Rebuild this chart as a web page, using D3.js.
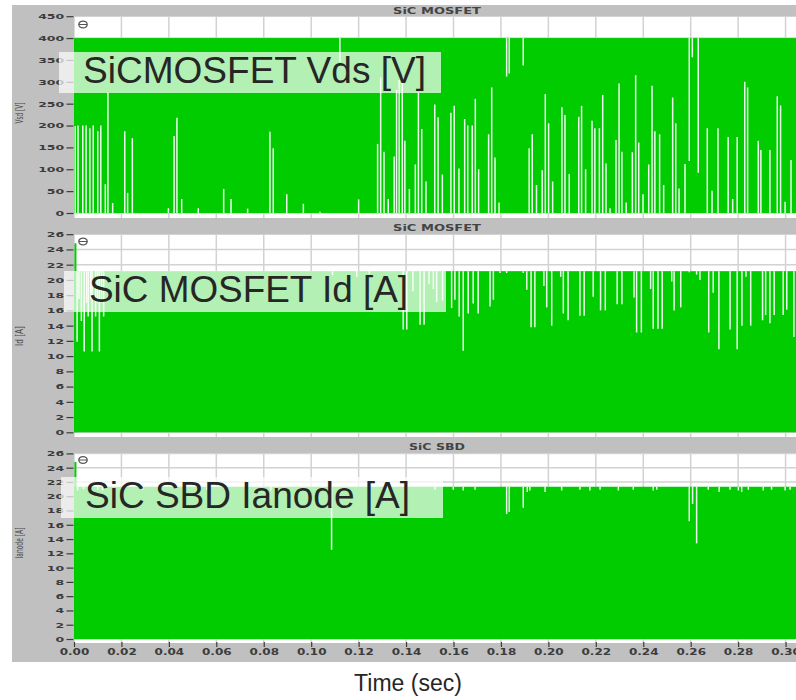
<!DOCTYPE html>
<html>
<head>
<meta charset="utf-8">
<script src="https://cdn.jsdelivr.net/npm/d3@7"></script>
<style>
  body { margin: 0; background: #fff; }
  svg { display: block; }
</style>
</head>
<body>
<div id="chart"></div>
<script>
// time axis
const timeTicks = [0, 0.02, 0.04, 0.06, 0.08, 0.10, 0.12, 0.14, 0.16, 0.18, 0.20, 0.22, 0.24, 0.26, 0.28, 0.30];
const timeMax = 0.3044;

// panel 1 : SiC MOSFET Vds
const vdsTicks = [0, 50, 100, 150, 200, 250, 300, 350, 400, 450];
const vdsBand = [0, 400];
// [time, level] : signal never went below level in that column
const vdsLowGaps = [
  [0.0005, 199], [0.0017, 200], [0.0037, 200], [0.0051, 200], [0.0067, 194], [0.0081, 200],
  [0.0100, 187], [0.0113, 200], [0.0132, 66], [0.0143, 275], [0.0163, 23], [0.0214, 187],
  [0.0226, 46], [0.0246, 171], [0.0398, 11], [0.0422, 176], [0.0434, 218], [0.0454, 32],
  [0.0524, 11], [0.0631, 55], [0.0662, 32], [0.0732, 10], [0.0826, 186], [0.0840, 148],
  [0.0897, 43], [0.0967, 21], [0.1037, 3], [0.1200, 31], [0.1280, 158], [0.1293, 310],
  [0.1307, 140], [0.1325, 32], [0.1350, 129], [0.1360, 281], [0.1371, 304], [0.1384, 304],
  [0.1395, 165], [0.1414, 55], [0.1439, 111], [0.1452, 275], [0.1466, 192], [0.1484, 72],
  [0.1521, 248], [0.1535, 219], [0.1553, 88], [0.1589, 229], [0.1603, 245], [0.1623, 102],
  [0.1647, 215], [0.1660, 200], [0.1679, 200], [0.1692, 261], [0.1706, 100], [0.1748, 180],
  [0.1761, 287], [0.1775, 127], [0.1792, 24], [0.1919, 148], [0.1932, 180], [0.1950, 64],
  [0.1974, 98], [0.1987, 272], [0.2001, 205], [0.2018, 72], [0.2057, 242], [0.2070, 224],
  [0.2088, 89], [0.2128, 220], [0.2140, 245], [0.2157, 100], [0.2184, 211], [0.2196, 194],
  [0.2215, 194], [0.2229, 270], [0.2243, 113], [0.2260, 11], [0.2285, 167], [0.2298, 296],
  [0.2310, 140], [0.2328, 24], [0.2354, 139], [0.2368, 315], [0.2381, 161], [0.2399, 43],
  [0.2423, 111], [0.2437, 291], [0.2449, 187], [0.2469, 180], [0.2486, 64], [0.2524, 264],
  [0.2537, 205], [0.2551, 56], [0.2576, 112], [0.2670, 194], [0.2690, 51], [0.2715, 194],
  [0.2758, 174], [0.2777, 32], [0.2796, 174], [0.2828, 300], [0.2840, 287], [0.2885, 165],
  [0.2896, 144], [0.2934, 144], [0.2965, 267], [0.2979, 246], [0.2998, 26], [0.3023, 121]
];
// [time, level] : signal never went above level in that column
const vdsHighGaps = [
  [0.1121, 346], [0.1824, 312], [0.1835, 319], [0.1894, 337], [0.2594, 119], [0.2607, 356], [0.2632, 92]
];

// panel 2 : SiC MOSFET Id
const currentTicks = [0, 2, 4, 6, 8, 10, 12, 14, 16, 18, 20, 22, 24, 26];
const idBand = [0, 21.15];
const idStartPeak = 24.8;
const idHighGaps = [
  [0.0013, 11.9], [0.0021, 17.5], [0.0031, 14.6], [0.0043, 10.6], [0.0053, 17.0], [0.0060, 15.2],
  [0.0070, 17.5], [0.0076, 10.6], [0.0091, 15.2], [0.0099, 17.0], [0.0107, 10.6], [0.0116, 17.0],
  [0.0125, 15.2], [0.1090, 20.6], [0.1192, 20.4], [0.1245, 20.8], [0.1388, 13.5], [0.1403, 13.5],
  [0.1429, 18.5], [0.1459, 14.1], [0.1476, 14.1], [0.1497, 19.5], [0.1515, 18.8], [0.1529, 17.1],
  [0.1554, 17.3], [0.1592, 16.3], [0.1606, 17.4], [0.1624, 15.2], [0.1641, 10.7], [0.1662, 15.6],
  [0.1683, 16.9], [0.1704, 15.6], [0.1754, 16.5], [0.1768, 17.4], [0.1796, 20.9], [0.1824, 20.9],
  [0.1894, 20.9], [0.1909, 18.7], [0.1927, 13.8], [0.1943, 13.8], [0.1981, 19.2], [0.1993, 16.4],
  [0.2014, 14.0], [0.2052, 20.4], [0.2063, 15.6], [0.2083, 14.7], [0.2133, 15.3], [0.2151, 15.3],
  [0.2189, 17.8], [0.2220, 16.0], [0.2240, 16.0], [0.2290, 16.8], [0.2310, 16.8], [0.2361, 17.7],
  [0.2372, 13.1], [0.2392, 13.1], [0.2431, 18.8], [0.2442, 13.6], [0.2462, 13.6], [0.2480, 13.6],
  [0.2520, 19.8], [0.2530, 16.0], [0.2558, 16.4], [0.2594, 21.0], [0.2625, 20.7], [0.2639, 20.0],
  [0.2676, 13.1], [0.2695, 18.3], [0.2719, 10.9], [0.2766, 13.5], [0.2796, 10.9], [0.2816, 14.0],
  [0.2833, 20.4], [0.2853, 14.0], [0.2903, 14.7], [0.2916, 15.4], [0.2934, 14.3], [0.2952, 15.4],
  [0.2990, 15.4], [0.3005, 16.1], [0.3035, 12.5]
];

// panel 3 : SiC SBD Ianode
const ianodeBand = [0, 21.33];
const ianodeStartPeak = 24.8;
const ianodeHighGaps = [
  [0.0015, 20.8], [0.0040, 21.0], [0.0070, 20.6], [0.0100, 20.9], [0.0120, 20.8], [0.0290, 20.9],
  [0.0560, 20.9], [0.0830, 20.8], [0.1086, 12.5], [0.1320, 20.9], [0.1522, 20.9], [0.1599, 20.9],
  [0.1641, 20.8], [0.1691, 20.9], [0.1824, 17.5], [0.1835, 17.8], [0.1894, 18.4], [0.1911, 20.6],
  [0.1922, 20.8], [0.1986, 20.6], [0.2056, 20.8], [0.2133, 20.9], [0.2175, 20.8], [0.2218, 20.9],
  [0.2295, 20.8], [0.2358, 20.9], [0.2442, 20.8], [0.2457, 20.9], [0.2594, 16.5], [0.2608, 18.9],
  [0.2625, 13.4], [0.2674, 20.9], [0.2720, 20.6], [0.2766, 20.9], [0.2801, 20.8], [0.2815, 20.6],
  [0.2843, 20.9], [0.2906, 20.8], [0.2941, 20.9], [0.2998, 20.8], [0.3019, 20.9]
];

const green = '#00cc00';
const gridColor = '#d2d2d2';
const tickColor = '#3c3c3c';

const svg = d3.select('#chart')
  .append('svg')
  .attr('width', 796)
  .attr('height', 700);

// gray front panel
svg.append('rect')
  .attr('x', 12).attr('y', 5)
  .attr('width', 784).attr('height', 657)
  .attr('fill', '#c0c0c0');

const x = d3.scaleLinear().domain([0, timeMax]).range([74, 796]);

function drawPanel(cfg) {
  const y = d3.scaleLinear().domain([0, cfg.yMax]).range([cfg.zeroY, cfg.maxY]);
  const g = svg.append('g');

  g.append('text')
    .attr('x', 437)
    .attr('y', cfg.titleY)
    .attr('text-anchor', 'middle')
    .attr('dominant-baseline', 'central')
    .attr('font-family', 'DejaVu Sans')
    .attr('font-weight', 'bold')
    .attr('font-size', '9px')
    .attr('fill', '#444')
    .attr('textLength', cfg.titleLen)
    .attr('lengthAdjust', 'spacingAndGlyphs')
    .text(cfg.title);

  g.append('clipPath')
    .attr('id', `clip-${cfg.id}`)
    .append('rect')
    .attr('x', 74).attr('y', cfg.plotTop)
    .attr('width', 796 - 74).attr('height', cfg.plotBottom - cfg.plotTop);

  const plot = g.append('g').attr('clip-path', `url(#clip-${cfg.id})`);

  plot.append('rect')
    .attr('x', 74).attr('y', cfg.plotTop)
    .attr('width', 796 - 74).attr('height', cfg.plotBottom - cfg.plotTop)
    .attr('fill', '#fff');

  plot.selectAll('.vgrid')
    .data(timeTicks)
    .join('line')
    .attr('x1', d => x(d)).attr('x2', d => x(d))
    .attr('y1', cfg.plotTop).attr('y2', cfg.plotBottom)
    .attr('stroke', gridColor)
    .attr('stroke-width', 1.5);

  plot.selectAll('.hgrid')
    .data(cfg.ticks)
    .join('line')
    .attr('x1', 74).attr('x2', 796)
    .attr('y1', d => y(d)).attr('y2', d => y(d))
    .attr('stroke', gridColor)
    .attr('stroke-width', 1.5);

  // dense waveform envelope
  plot.append('rect')
    .attr('x', x(0) - 0.7)
    .attr('y', y(cfg.band[1]))
    .attr('width', x(timeMax) - x(0) + 1)
    .attr('height', y(cfg.band[0]) - y(cfg.band[1]))
    .attr('fill', green);

  if (cfg.startPeak) {
    plot.append('line')
      .attr('x1', x(0.0006)).attr('x2', x(0.0006))
      .attr('y1', y(0)).attr('y2', y(cfg.startPeak))
      .attr('stroke', green)
      .attr('stroke-width', 2);
  }

  plot.selectAll('.lowgap')
    .data(cfg.lowGaps || [])
    .join('line')
    .attr('x1', d => x(d[0])).attr('x2', d => x(d[0]))
    .attr('y1', y(cfg.band[0])).attr('y2', d => y(d[1]))
    .attr('stroke', '#fff')
    .attr('stroke-opacity', 0.92)
    .attr('stroke-width', 1.5);

  plot.selectAll('.highgap')
    .data(cfg.highGaps || [])
    .join('line')
    .attr('x1', d => x(d[0])).attr('x2', d => x(d[0]))
    .attr('y1', y(cfg.band[1])).attr('y2', d => y(d[1]))
    .attr('stroke', '#fff')
    .attr('stroke-opacity', 0.92)
    .attr('stroke-width', 1.5);

  // y axis
  const yAxis = g.append('g')
    .attr('transform', 'translate(73.5,0)')
    .call(d3.axisLeft(y).tickValues(cfg.ticks).tickSize(7).tickFormat(d3.format('d')));
  yAxis.select('.domain').remove();
  yAxis.selectAll('.tick line').attr('stroke', tickColor).attr('stroke-width', 1.2);
  yAxis.selectAll('.tick text')
    .attr('x', -7.4)
    .attr('transform', 'scale(1.25,0.75)')
    .attr('font-family', 'DejaVu Sans')
    .attr('font-weight', 'bold')
    .attr('font-size', '10px')
    .attr('fill', tickColor);

  g.append('text')
    .attr('transform', `translate(23,${cfg.labelY}) rotate(-90)`)
    .attr('text-anchor', 'middle')
    .attr('font-family', 'DejaVu Sans Condensed, DejaVu Sans')
    .attr('font-size', '10.5px')
    .attr('fill', '#484848')
    .attr('textLength', cfg.labelLen)
    .attr('lengthAdjust', 'spacingAndGlyphs')
    .text(cfg.yLabel);

  // annotation box
  g.append('rect')
    .attr('x', cfg.box[0]).attr('y', cfg.box[1])
    .attr('width', cfg.box[2] - cfg.box[0]).attr('height', cfg.box[3] - cfg.box[1])
    .attr('fill', '#fff')
    .attr('fill-opacity', 0.7);

  g.append('text')
    .attr('x', cfg.noteX).attr('y', cfg.noteY)
    .attr('font-family', 'Liberation Sans, Arial, sans-serif')
    .attr('font-size', '36px')
    .attr('fill', '#262626')
    .attr('textLength', cfg.noteLen)
    .attr('lengthAdjust', 'spacingAndGlyphs')
    .text(cfg.note);

  // cursor icon
  const icon = g.append('g').attr('transform', `translate(83,${cfg.iconY})`);
  icon.append('ellipse')
    .attr('rx', 4.2).attr('ry', 3.4)
    .attr('fill', '#fff')
    .attr('stroke', '#555')
    .attr('stroke-width', 1.3);
  icon.append('line')
    .attr('x1', -4).attr('x2', 4)
    .attr('y1', 0).attr('y2', 0)
    .attr('stroke', '#555')
    .attr('stroke-width', 1);
}

drawPanel({
  id: 'vds', title: 'SiC MOSFET', titleY: 11, titleLen: 88,
  yMax: 450, zeroY: 213, maxY: 16.2, plotTop: 16, plotBottom: 218,
  ticks: vdsTicks, band: vdsBand, lowGaps: vdsLowGaps, highGaps: vdsHighGaps,
  yLabel: 'Vsd [V]', labelY: 113, labelLen: 21,
  box: [59, 52, 441, 93], note: 'SiCMOSFET Vds [V]', noteX: 83, noteY: 83, noteLen: 343,
  iconY: 24.5
});

drawPanel({
  id: 'id', title: 'SiC MOSFET', titleY: 228, titleLen: 88,
  yMax: 26, zeroY: 432.3, maxY: 234.2, plotTop: 234, plotBottom: 437,
  ticks: currentTicks, band: idBand, highGaps: idHighGaps, startPeak: idStartPeak,
  yLabel: 'Id [A]', labelY: 336, labelLen: 20,
  box: [64, 271, 446, 312], note: 'SiC MOSFET Id [A]', noteX: 89, noteY: 301.5, noteLen: 319,
  iconY: 241.5
});

drawPanel({
  id: 'ianode', title: 'SiC SBD', titleY: 447, titleLen: 56,
  yMax: 26, zeroY: 639, maxY: 453.4, plotTop: 453, plotBottom: 643,
  ticks: currentTicks, band: ianodeBand, highGaps: ianodeHighGaps, startPeak: ianodeStartPeak,
  yLabel: 'Ianode [A]', labelY: 543, labelLen: 31,
  box: [61, 477, 443, 518], note: 'SiC SBD Ianode [A]', noteX: 85, noteY: 508, noteLen: 325,
  iconY: 460
});

// time axis
const xAxis = svg.append('g')
  .attr('transform', 'translate(0,642)')
  .call(d3.axisBottom(x).tickValues(timeTicks).tickSize(5).tickFormat(d3.format('.2f')));
xAxis.select('.domain').remove();
xAxis.selectAll('.tick line').attr('stroke', tickColor).attr('stroke-width', 1.2);
xAxis.selectAll('.tick text')
  .attr('y', 7)
  .attr('transform', 'scale(1.2,0.9)')
  .attr('font-family', 'DejaVu Sans')
  .attr('font-weight', 'bold')
  .attr('font-size', '10px')
  .attr('fill', tickColor);

svg.append('text')
  .attr('x', 408)
  .attr('y', 691)
  .attr('text-anchor', 'middle')
  .attr('font-family', 'Liberation Sans, Arial, sans-serif')
  .attr('font-size', '23px')
  .attr('fill', '#262626')
  .text('Time (sec)');
</script>
</body>
</html>
